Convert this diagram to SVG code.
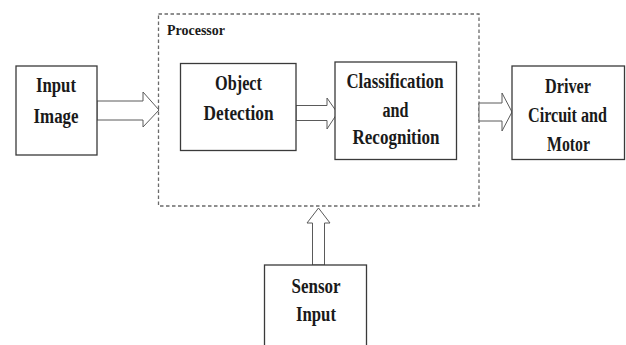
<svg xmlns="http://www.w3.org/2000/svg" width="626" height="345" viewBox="0 0 626 345">
<style>
.box{fill:#fff;stroke:#3a3a3a;stroke-width:1.3}
.arr{fill:#fff;stroke:#5a5a5a;stroke-width:1}
.dash{fill:none;stroke:#6a6a6a;stroke-width:1.3;stroke-dasharray:3.5 2.5}
text{font-family:"Liberation Serif","Times New Roman",serif;font-weight:bold;font-size:20px;fill:#1a1a1a}
.small{font-size:15px}
</style>
<rect width="626" height="345" fill="#fff"/>
<g id="processor">
<rect class="dash" x="158.5" y="14" width="320.5" height="192"/>
<text class="small" x="167" y="35" textLength="58" lengthAdjust="spacingAndGlyphs">Processor</text>
</g>
<g id="connectors">
<polygon class="arr" points="97,101 143,101 143,92 159,110 143,127 143,120 97,120"/>
<polygon class="arr" points="296,105.5 327,105.5 327,98 337.5,113 327,129 327,120.5 296,120.5"/>
<polygon class="arr" points="479,103 502,103 502,93 512,112 502,131 502,121 479,121"/>
<polygon class="arr" points="312.5,265 312.5,223 307,223 318.5,208 330,223 324.5,223 324.5,265"/>
</g>
<g id="input-image">
<rect class="box" x="16" y="66" width="81" height="89"/>
<text x="36" y="92" textLength="40" lengthAdjust="spacingAndGlyphs">Input</text>
<text x="33.5" y="122.5" textLength="45" lengthAdjust="spacingAndGlyphs">Image</text>
</g>
<g id="object-detection">
<rect class="box" x="180.5" y="63.5" width="115.5" height="87"/>
<text x="215" y="90" textLength="47" lengthAdjust="spacingAndGlyphs">Object</text>
<text x="203.5" y="120" textLength="70" lengthAdjust="spacingAndGlyphs">Detection</text>
</g>
<g id="classification">
<rect class="box" x="335" y="62" width="121.5" height="97.5"/>
<text x="346.5" y="87.5" textLength="97" lengthAdjust="spacingAndGlyphs">Classification</text>
<text x="382.5" y="116.5" textLength="26" lengthAdjust="spacingAndGlyphs">and</text>
<text x="352.5" y="144" textLength="87" lengthAdjust="spacingAndGlyphs">Recognition</text>
</g>
<g id="driver">
<rect class="box" x="512" y="66" width="112.5" height="93.5"/>
<text x="545" y="92.5" textLength="46" lengthAdjust="spacingAndGlyphs">Driver</text>
<text x="528" y="121.5" textLength="79" lengthAdjust="spacingAndGlyphs">Circuit and</text>
<text x="547" y="151" textLength="43" lengthAdjust="spacingAndGlyphs">Motor</text>
</g>
<g id="sensor-input">
<rect class="box" x="264.5" y="265" width="102" height="90"/>
<text x="291.5" y="292.5" textLength="49" lengthAdjust="spacingAndGlyphs">Sensor</text>
<text x="296" y="320.5" textLength="40" lengthAdjust="spacingAndGlyphs">Input</text>
</g>
</svg>
